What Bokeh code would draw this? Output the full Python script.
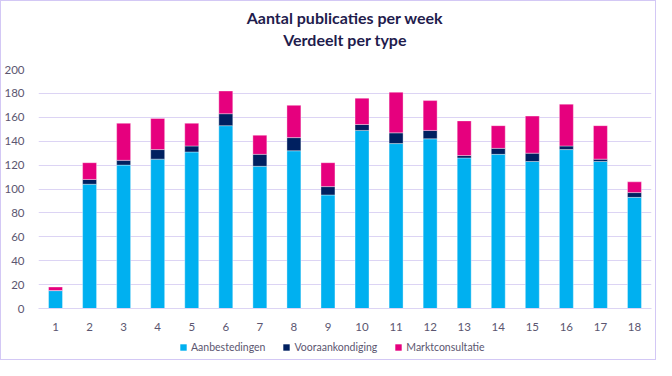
from bokeh.plotting import figure
from bokeh.models import Title, Legend, LegendItem, FixedTicker, ColumnDataSource
from bokeh.layouts import column
from bokeh.embed import file_html
from bokeh.resources import INLINE

weeks = [str(i) for i in range(1, 19)]
aanbestedingen = [15, 104, 120, 125, 131, 153, 119, 132, 95, 149, 138, 142, 126, 129, 123, 133, 123, 93]
vooraankondiging = [0, 4, 4, 8, 5, 10, 10, 11, 7, 5, 9, 7, 2, 5, 7, 3, 2, 4]
marktconsultatie = [3, 14, 31, 26, 19, 19, 16, 27, 20, 22, 34, 25, 29, 19, 31, 35, 28, 9]
series = ["Aanbestedingen", "Vooraankondiging", "Marktconsultatie"]
colors = ["#00b0f0", "#002060", "#e6007e"]
y_ticks = [0, 20, 40, 60, 80, 100, 120, 140, 160, 180, 200]

source = ColumnDataSource(dict(week=weeks, Aanbestedingen=aanbestedingen,
                               Vooraankondiging=vooraankondiging,
                               Marktconsultatie=marktconsultatie))

FONT = "Lato"
LABEL_COLOR = "#5b5670"
GRID = "#dcd4f4"
TITLE_COLOR = "#1f1c4d"

p = figure(x_range=weeks, y_range=(0, 200), width=654, height=332,
           output_backend="svg", toolbar_location=None,
           min_border_left=30, min_border_right=4, min_border_top=68, min_border_bottom=24)
p.title.text = "Aantal publicaties per week"
p.title.align = "center"
p.title.text_font = FONT
p.title.text_font_size = "16px"
p.title.text_color = TITLE_COLOR
p.title.standoff = 1

renderers = p.vbar_stack(series, x="week", width=0.41, source=source,
                         color=colors, line_color="white", line_width=0.6, line_alpha=0.6)

spacer = Title(text=" ", text_font_size="8px", standoff=9)
p.add_layout(spacer, "above")
t2 = Title(text="Verdeelt per type", align="center", text_font=FONT, text_font_size="16px",
           text_font_style="bold", text_color=TITLE_COLOR, standoff=1)
p.add_layout(t2, "above")

p.outline_line_color = None
p.xgrid.grid_line_color = None
p.ygrid.grid_line_color = GRID
p.ygrid.grid_line_width = 1.2
p.yaxis.ticker = FixedTicker(ticks=y_ticks)
p.yaxis.axis_line_color = None
p.yaxis.major_tick_line_color = None
p.yaxis.minor_tick_line_color = None
p.yaxis.major_label_text_font = FONT
p.yaxis.major_label_text_font_size = "11.5px"
p.yaxis.major_label_text_color = LABEL_COLOR
p.yaxis.major_label_standoff = 8

p.xaxis.axis_line_color = GRID
p.xaxis.axis_line_width = 1.2
p.xaxis.major_tick_line_color = None
p.xaxis.minor_tick_line_color = None
p.xaxis.major_label_text_font = FONT
p.xaxis.major_label_text_font_size = "11.5px"
p.xaxis.major_label_text_color = LABEL_COLOR
p.xaxis.major_label_standoff = 8
p.x_range.range_padding = 0

# separate strip holding only the legend (dummy zero-height bars, nothing visible)
lf = figure(width=654, height=26, x_range=(0, 1), y_range=(0, 1),
            output_backend="svg", toolbar_location=None,
            x_axis_location=None, y_axis_location=None, min_border=0)
lf.outline_line_color = None
lf.grid.visible = False
items = []
for s, c in zip(series, colors):
    r = lf.vbar(x=[0.5], top=[0], bottom=[0], width=0.0, fill_color=c, line_alpha=0)
    items.append(LegendItem(label=s, renderers=[r]))
legend = Legend(items=items, orientation="horizontal", location=(141, 6),
                label_text_font=FONT, label_text_font_size="10.5px", label_text_color=LABEL_COLOR,
                glyph_width=8, glyph_height=8, label_standoff=4, spacing=17,
                border_line_color=None, background_fill_alpha=0, padding=0, margin=0)
lf.add_layout(legend, "center")

layout = column(p, lf, spacing=0)
layout.styles = {"border": "1px solid #d3c8f5"}

open("out.html", "w").write(file_html(layout, INLINE))
